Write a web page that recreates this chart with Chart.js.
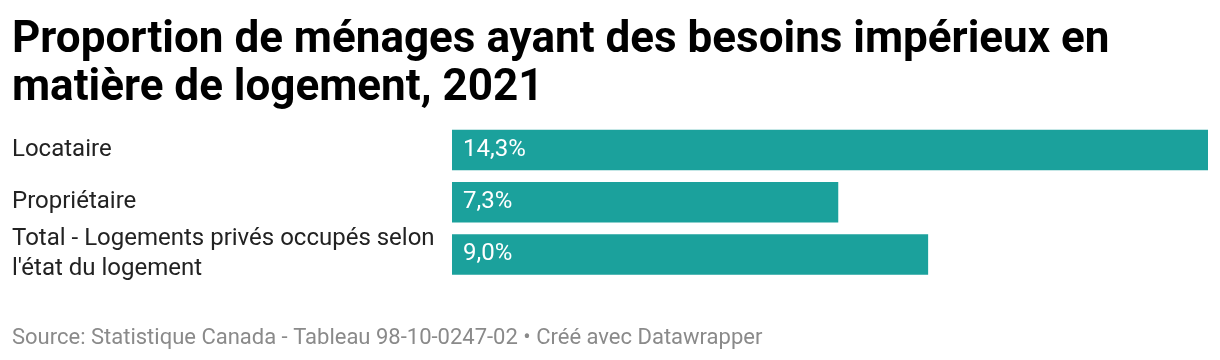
<!DOCTYPE html>
<html>
<head>
<meta charset="utf-8">
<script src="https://cdn.jsdelivr.net/npm/chart.js@4"></script>
<style>
  html, body { margin: 0; padding: 0; background: #fff; }
  #wrap { width: 1220px; height: 360px; }
</style>
</head>
<body>
<div id="wrap"><canvas id="c" width="1220" height="360"></canvas></div>
<script>
const titleLines = ["Proportion de ménages ayant des besoins impérieux en", "matière de logement, 2021"];
const categories = ["Locataire", "Propriétaire", ["Total - Logements privés occupés selon", "l'état du logement"]];
const values = [14.3, 7.3, 9.0];
const sourceText = "Source: Statistique Canada - Tableau 98-10-0247-02 • Créé avec Datawrapper";

const fmt = v => v.toFixed(1).replace('.', ',') + '%';

const valueLabels = {
  id: 'valueLabels',
  afterDatasetsDraw(chart) {
    const ctx = chart.ctx;
    const meta = chart.getDatasetMeta(0);
    ctx.save();
    ctx.font = '24px Roboto';
    ctx.fillStyle = '#ffffff';
    ctx.textAlign = 'left';
    ctx.textBaseline = 'middle';
    meta.data.forEach((bar, i) => {
      const left = Math.min(bar.base, bar.x);
      ctx.fillText(fmt(values[i]), left + 11, bar.y);
    });
    ctx.restore();
  }
};

new Chart(document.getElementById('c'), {
  type: 'bar',
  data: {
    labels: categories,
    datasets: [{
      data: values,
      backgroundColor: '#1ba19c',
      borderWidth: 0,
      barThickness: 40
    }]
  },
  options: {
    indexAxis: 'y',
    responsive: false,
    animation: false,
    layout: { padding: { left: 12, right: 12, top: 0, bottom: 0 } },
    plugins: {
      legend: { display: false },
      tooltip: { enabled: false },
      title: {
        display: true,
        text: titleLines,
        align: 'start',
        color: '#000000',
        font: { family: 'Roboto', size: 44, weight: 'bold', lineHeight: 1.09 },
        padding: { top: 17, bottom: 11 }
      },
      subtitle: {
        display: true,
        position: 'bottom',
        text: sourceText,
        align: 'start',
        color: '#8a8a8a',
        font: { family: 'Roboto', size: 22, lineHeight: 1.2 },
        padding: { top: 45, bottom: 8 }
      }
    },
    scales: {
      x: {
        display: false,
        min: 0,
        max: Math.max(...values),
        grid: { display: false }
      },
      y: {
        grid: { display: false },
        border: { display: false },
        afterFit(axis) { axis.width = 440; },
        ticks: {
          autoSkip: false,
          crossAlign: 'far',
          color: '#222222',
          padding: 0,
          font: { family: 'Roboto', size: 24, lineHeight: 1.25 }
        }
      }
    }
  },
  plugins: [valueLabels]
});
</script>
</body>
</html>
